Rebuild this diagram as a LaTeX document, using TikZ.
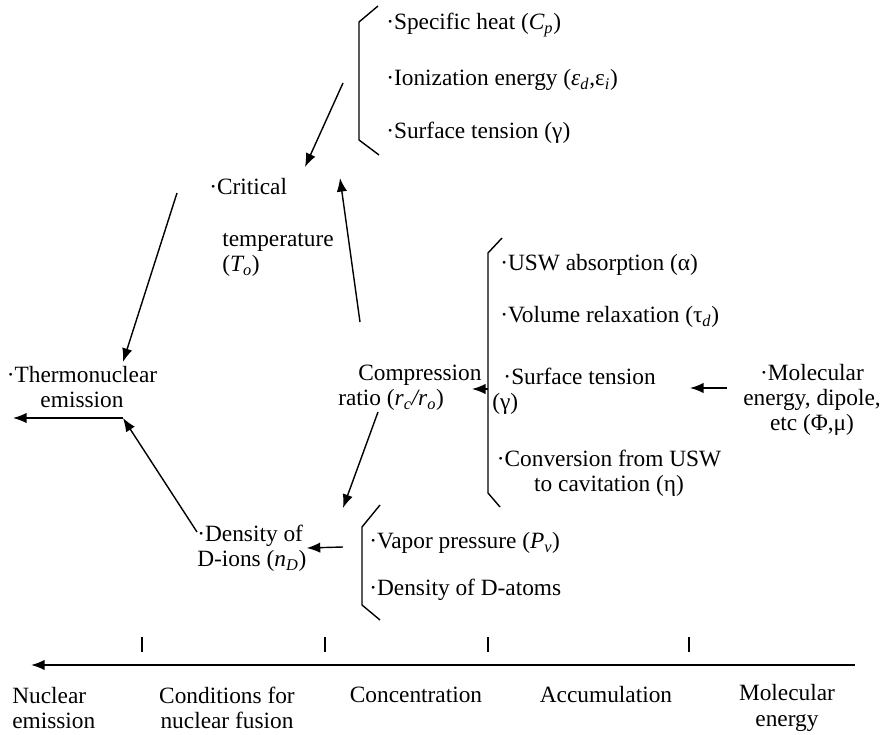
\documentclass[tikz,border=0pt]{standalone}
\usepackage{fontspec}
\setmainfont{Liberation Serif}
\usetikzlibrary{arrows.meta,positioning}
\tikzset{
  item/.style={inner sep=0pt, align=left, anchor=west},
  label/.style={inner sep=0pt, align=center},
  flow/.style={-{Latex[length=3.4mm, width=2.6mm]}, line width=1pt},
  brace/.style={line width=1pt},
  axis/.style={-{Latex[length=3.4mm, width=2.6mm]}, line width=1.3pt}
}

\begin{document}
\begin{tikzpicture}[x=0.025cm, y=-0.025cm, font=\fontsize{16.6}{18}\selectfont]
  \useasboundingbox (0,0) rectangle (882,735);
  % properties of the liquid
  \node[item] (heat) at (386,25) {·Specific heat (\textit{C\textsubscript{p}})};
  \node[item] (ion) at (386,80) {·Ionization energy (\textit{ε\textsubscript{d}},ε\textsubscript{\textit{i}})};
  \node[item] (tens) at (386,133) {·Surface tension (γ)};
  \draw[brace] (378,6) -- (359,22) -- (359,140) -- (379,155);

  \node[item] (absorb) at (500,265) {·USW absorption (α)};
  \node[item] (relax) at (500,317) {·Volume relaxation (τ\textsubscript{\textit{d}})};
  \node[item] (tenstwo) at (492,391) {\hspace*{0.28cm}·Surface tension\\(γ)};
  \node[label] (conv) at (609,473) {·Conversion from USW\\to cavitation (η)};
  \draw[brace] (502,238) -- (488,253) -- (488,493) -- (500,507);

  \node[item] (vapor) at (369,543) {·Vapor pressure (\textit{P\textsubscript{v}})};
  \node[item] (atoms) at (369,590) {·Density of D-atoms};
  \draw[brace] (380,505) -- (362,527) -- (362,605) -- (380,620);

  % conditions
  \node[item] (crit) at (209,187) {·Critical};
  \node[item] (temp) at (222,255) {temperature\\(\textit{T\textsubscript{o}})};
  \node[item] (comp) at (338,388) {\hspace*{0.5cm}Compression\\ratio (\textit{r\textsubscript{c}/r\textsubscript{o}})};
  \node[item] (dens) at (197,548) {·Density of\\D-ions (\textit{n\textsubscript{D}})};
  \node[label] (thermo) at (82,387) {·Thermonuclear\\emission};
  \node[label] (mol) at (812,400) {·Molecular\\energy, dipole,\\etc (Φ,μ)};

  % arrow ends
  \coordinate (heatout) at (343,83);
  \coordinate (critin) at (305,167);
  \coordinate (compup) at (360,322);
  \coordinate (critinb) at (340,178);
  \coordinate (critout) at (177,193);
  \coordinate (thermoin) at (123,362);
  \coordinate (densout) at (197,532);
  \coordinate (knee) at (123,418);
  \coordinate (emit) at (13,418);
  \coordinate (compdown) at (378,412);
  \coordinate (densin) at (343,508);
  \coordinate (vaporout) at (343,547);
  \coordinate (absorbout) at (488,389);
  \coordinate (compin) at (472,389);
  \coordinate (molout) at (727,388);
  \coordinate (tensin) at (690,388);

  \draw[flow] (heatout) -- (critin);
  \draw[flow] (compup) -- (critinb);
  \draw[flow] (critout) -- (thermoin);
  \draw[flow] (densout) -- (knee);
  \draw[flow] (knee) -- (emit);
  \draw[flow] (compdown) -- (densin);
  \draw[flow] (vaporout) -- (dens.east);
  \draw[flow] (absorbout) -- (compin);
  \draw[flow] (molout) -- (tensin);

  % stages
  \coordinate (axstart) at (855,665);
  \coordinate (axend) at (31,665);
  \draw[axis] (axstart) -- (axend);
  \foreach \x in {142,325,488,689}
    \draw[brace] (\x,637) -- (\x,652);
  \node[item] (nuc) at (12,708) {Nuclear\\emission};
  \node[label] (cond) at (227,708) {Conditions for\\nuclear fusion};
  \node[label] (conc) at (416,695) {Concentration};
  \node[label] (accu) at (606,695) {Accumulation};
  \node[label] (energy) at (787,708) {Molecular\\energy};
\end{tikzpicture}
\end{document}
